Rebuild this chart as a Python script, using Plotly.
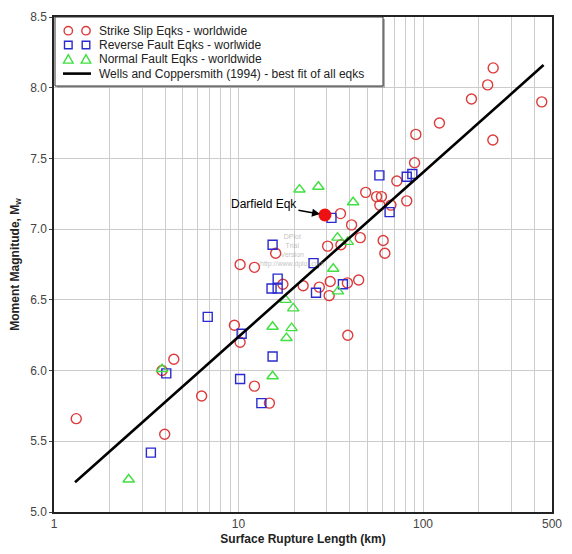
import math
import plotly.graph_objects as go

# Strike-slip earthquakes (surface rupture length km, Mw)
ss_len = [1.32, 3.98, 3.85, 4.46, 6.31, 9.5, 10.2, 12.2, 14.7, 10.2, 12.2, 15.9, 17.4, 22.4,
          27.4, 31.4, 31.0, 38.9, 44.8, 30.4, 35.9, 45.7, 41.0, 60.8, 62.1, 35.7, 39.1,
          48.9, 56.0, 59.5, 58.3, 67.0, 81.6, 72.1, 90.0, 91.4, 122.7, 183, 224, 240, 239, 440]
ss_mw = [5.66, 5.55, 6.00, 6.08, 5.82, 6.32, 6.20, 5.89, 5.77, 6.75, 6.73, 6.83, 6.61, 6.60,
         6.59, 6.63, 6.53, 6.62, 6.64, 6.88, 6.89, 6.94, 7.03, 6.92, 6.83, 7.11, 6.25,
         7.26, 7.23, 7.23, 7.17, 7.17, 7.20, 7.34, 7.47, 7.67, 7.75, 7.92, 8.02, 8.14, 7.63, 7.90]

# Reverse-fault earthquakes
rv_len = [3.35, 4.06, 6.81, 10.4, 10.2, 13.3, 15.3, 15.3, 25.5, 16.3, 15.1, 16.3, 26.3,
          36.8, 31.9, 65.9, 58.0, 81.6, 87.5]
rv_mw = [5.42, 5.98, 6.38, 6.26, 5.94, 5.77, 6.10, 6.89, 6.76, 6.65, 6.58, 6.58, 6.55,
         6.61, 7.08, 7.12, 7.38, 7.37, 7.39]

# Normal-fault earthquakes
nf_len = [2.54, 3.85, 15.3, 15.3, 18.2, 18.0, 19.8, 19.4, 32.6, 34.6, 34.4, 39.1, 21.4, 27.1, 41.8]
nf_mw = [5.23, 6.01, 6.31, 5.96, 6.23, 6.50, 6.44, 6.30, 6.72, 6.56, 6.94, 6.91, 7.28, 7.30, 7.19]

# Wells and Coppersmith (1994) best-fit line endpoints
wc_len = [1.3, 450]
wc_mw = [5.21, 8.16]

# Darfield earthquake
darf_len = [29.4]
darf_mw = [7.10]

legend_labels = ["Strike Slip Eqks - worldwide", "Reverse Fault Eqks - worlwide",
                 "Normal Fault Eqks - worldwide",
                 "Wells and Coppersmith (1994) - best fit of all eqks"]

x_tickvals = [1, 10, 100, 500]
x_ticktext = ["1", "10", "100", "500"]
x_minor = [2, 3, 4, 5, 6, 7, 8, 9, 20, 30, 40, 50, 60, 70, 80, 90, 200, 300, 400]
y_tickvals = [5.0, 5.5, 6.0, 6.5, 7.0, 7.5, 8.0, 8.5]

RED = "#dd3b3b"
BLUE = "#2a2ad0"
GREEN = "#3fe03f"
FONT = "Arial, Liberation Sans, sans-serif"

fig = go.Figure()
fig.add_trace(go.Scatter(x=ss_len, y=ss_mw, mode="markers", name=legend_labels[0], showlegend=False,
                         marker=dict(symbol="circle-open", size=10, color=RED, line=dict(width=1.4, color=RED))))
fig.add_trace(go.Scatter(x=rv_len, y=rv_mw, mode="markers", name=legend_labels[1], showlegend=False,
                         marker=dict(symbol="square-open", size=9, color=BLUE, line=dict(width=1.4, color=BLUE))))
fig.add_trace(go.Scatter(x=nf_len, y=nf_mw, mode="markers", name=legend_labels[2], showlegend=False,
                         marker=dict(symbol="triangle-up-open", size=10, color=GREEN, line=dict(width=1.4, color=GREEN))))
fig.add_trace(go.Scatter(x=wc_len, y=wc_mw, mode="lines", name=legend_labels[3], showlegend=False,
                         line=dict(color="black", width=2.6)))
fig.add_trace(go.Scatter(x=darf_len, y=darf_mw, mode="markers", showlegend=False,
                         marker=dict(symbol="circle", size=13, color="#ee1111", line=dict(width=0))))

fig.add_annotation(x=math.log10(darf_len[0]), y=darf_mw[0], xref="x", yref="y",
                   text="Darfield Eqk", showarrow=True, arrowhead=2, arrowsize=1, arrowwidth=1.6,
                   arrowcolor="black", ax=-61, ay=-11, standoff=5,
                   font=dict(family=FONT, size=12, color="black"))
fig.add_annotation(x=math.log10(19.5), y=6.85, xref="x", yref="y",
                   text="DPlot<br>Trial<br>Version<br>http://www.dplot.com", showarrow=False,
                   font=dict(family=FONT, size=7, color="rgba(150,150,150,0.6)"))

# ---- custom legend (box, symbols, labels) anchored to the plot's top-left corner ----
def px_shape(kind, x0, x1, y0, y1, **kw):
    fig.add_shape(type=kind, xref="paper", yref="paper", xsizemode="pixel", ysizemode="pixel",
                  xanchor=0, yanchor=1, x0=x0, x1=x1, y0=y0, y1=y1, layer="above", **kw)

px_shape("rect", 3, 331, -2, -71, fillcolor="#b0b0b0", line=dict(width=0))
px_shape("rect", 1, 329, 0, -69, fillcolor="white", line=dict(color="#333333", width=1))

rows = [-13.7, -28.0, -42.3, -56.6]
sym_x = [14.3, 32.0]
for cx in sym_x:
    cy = rows[0]
    px_shape("circle", cx - 4.2, cx + 4.2, cy - 4.2, cy + 4.2, line=dict(color=RED, width=1.4))
    cy = rows[1]
    px_shape("rect", cx - 3.8, cx + 3.8, cy - 3.8, cy + 3.8, line=dict(color=BLUE, width=1.4))
    cy = rows[2]
    fig.add_shape(type="path", xref="paper", yref="paper", xsizemode="pixel", ysizemode="pixel",
                  xanchor=0, yanchor=1, layer="above",
                  path=f"M {cx-4.8},{cy-3.8} L {cx+4.8},{cy-3.8} L {cx},{cy+4.6} Z",
                  line=dict(color=GREEN, width=1.4))
px_shape("line", 9, 37, rows[3], rows[3], line=dict(color="black", width=2.6))

for lab, ry in zip(legend_labels, rows):
    fig.add_annotation(x=0, y=1, xref="paper", yref="paper", xanchor="left", yanchor="middle",
                       xshift=43, yshift=ry, text=lab, showarrow=False,
                       font=dict(family=FONT, size=12, color="#222222"))

fig.update_layout(
    width=572, height=554,
    margin=dict(l=54, r=10, t=14, b=38),
    paper_bgcolor="white", plot_bgcolor="white",
    font=dict(family=FONT, size=12, color="#444444"),
    showlegend=False,
)
fig.update_xaxes(type="log", range=[0, math.log10(500)],
                 tickmode="array", tickvals=x_tickvals, ticktext=x_ticktext,
                 showgrid=True, gridcolor="#cccccc", gridwidth=1,
                 minor=dict(tickmode="array", tickvals=x_minor, showgrid=True, gridcolor="#cccccc", gridwidth=1),
                 showline=True, linecolor="#222222", linewidth=1.5, mirror=True,
                 ticks="", zeroline=False,
                 tickfont=dict(family=FONT, size=12, color="#444444"),
                 title=dict(text="<b>Surface Rupture Length (km)</b>", standoff=4,
                            font=dict(family=FONT, size=12, color="#222222")))
fig.update_yaxes(range=[5.0, 8.5], tickmode="array", tickvals=y_tickvals,
                 ticktext=[f"{v:.1f}" for v in y_tickvals],
                 showgrid=True, gridcolor="#cccccc", gridwidth=1,
                 showline=True, linecolor="#222222", linewidth=1.5, mirror=True,
                 ticks="outside", ticklen=3, tickcolor="#444444", zeroline=False,
                 tickfont=dict(family=FONT, size=12, color="#444444"),
                 title=dict(text="<b>Moment Magnitude, M<sub>w</sub></b>", standoff=8,
                            font=dict(family=FONT, size=12, color="#222222")))

fig.write_html("out.html", config={"displayModeBar": False},
               post_script="document.body.style.margin='0px';")
